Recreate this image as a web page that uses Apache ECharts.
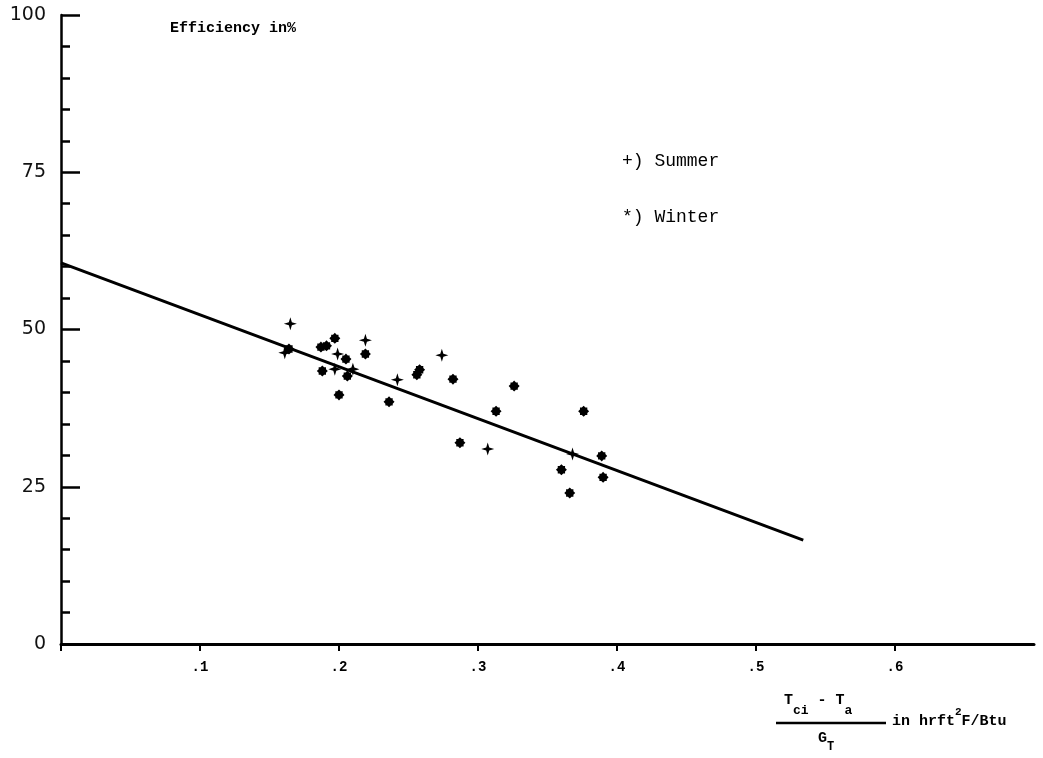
<!DOCTYPE html>
<html>
<head>
<meta charset="utf-8">
<script src="https://cdn.jsdelivr.net/npm/echarts@6/dist/echarts.min.js"></script>
<style>
  html, body { margin: 0; padding: 0; background: #fff; }
  #chart { width: 1043px; height: 758px; }
</style>
</head>
<body>
<div id="chart"></div>
<script>
// [x, efficiency %]
var summerPoints = [
  [0.165, 50.9], [0.161, 46.3], [0.219, 48.3], [0.199, 46.1], [0.197, 43.7],
  [0.210, 43.7], [0.242, 42.0], [0.274, 45.9], [0.307, 31.0], [0.368, 30.2]
];
var winterPoints = [
  [0.187, 47.2], [0.191, 47.4], [0.197, 48.6], [0.219, 46.1], [0.205, 45.3],
  [0.188, 43.4], [0.206, 42.6], [0.200, 39.6], [0.236, 38.5], [0.256, 42.8],
  [0.258, 43.6], [0.282, 42.1], [0.326, 41.0], [0.313, 37.0], [0.287, 32.0],
  [0.376, 37.0], [0.389, 29.9], [0.360, 27.7], [0.390, 26.5], [0.366, 24.0],
  [0.164, 46.9]
];
var fitLine = [[0, 60.6], [0.534, 16.5]];
var yTicks = [0, 25, 50, 75, 100];

var chart = echarts.init(document.getElementById('chart'));

// plotter style marks: thin four point cross and a fat blob
var plusPath = 'path://M0,-6 L1.4,-1.4 L6,0 L1.4,1.4 L0,6 L-1.4,1.4 L-6,0 L-1.4,-1.4 Z';
var blobPath = 'path://M0,-6 L2,-4 L4,-4 L4,-2 L6,0 L4,2 L4,4 L2,4 L0,6 L-2,4 L-4,4 L-4,2 L-6,0 L-4,-2 L-4,-4 L-2,-4 Z';

var monoBold = function (size) { return 'bold ' + size + 'px "Liberation Mono"'; };

var option = {
  backgroundColor: '#fff',
  animation: false,
  grid: { left: 61, right: 9, top: 15, bottom: 114 },
  xAxis: {
    type: 'value',
    min: 0,
    max: 0.7,
    interval: 0.1,
    axisLine: { lineStyle: { color: '#000', width: 3 } },
    axisTick: { show: true, length: 7, lineStyle: { color: '#000', width: 2 } },
    axisLabel: {
      showMaxLabel: false,
      margin: 16,
      color: '#000',
      fontFamily: 'Liberation Mono',
      fontWeight: 'bold',
      fontSize: 14,
      formatter: function (v) {
        if (v === 0) return '';
        return '.' + Math.round(v * 10);
      }
    },
    splitLine: { show: false }
  },
  yAxis: {
    type: 'value',
    min: 0,
    max: 100,
    interval: 25,
    axisLine: { show: true, lineStyle: { color: '#000', width: 2.5 } },
    axisTick: { show: true, inside: true, length: 19, lineStyle: { color: '#000', width: 2.5 } },
    minorTick: { show: true, splitNumber: 5, length: 9, lineStyle: { color: '#000', width: 2.5 } },
    axisLabel: {
      margin: 15,
      color: '#111',
      fontFamily: 'DejaVu Sans',
      fontSize: 19,
      formatter: function (v) { return yTicks.indexOf(v) >= 0 ? String(v) : ''; }
    },
    splitLine: { show: false }
  },
  graphic: [
    { type: 'text', left: 170, top: 21,
      style: { text: 'Efficiency in%', fill: '#000', font: monoBold(15) } },
    { type: 'text', left: 622, top: 152,
      style: { text: '+) Summer', fill: '#000', font: '18px "Liberation Mono"' } },
    { type: 'text', left: 622, top: 208,
      style: { text: '*) Winter', fill: '#000', font: '18px "Liberation Mono"' } },
    { type: 'text', left: 784, top: 693,
      style: {
        text: '{t|T}{s|ci}{t| - T}{s|a}',
        rich: {
          t: { font: monoBold(15), fill: '#000', verticalAlign: 'top', lineHeight: 16 },
          s: { font: monoBold(13), fill: '#000', verticalAlign: 'bottom', lineHeight: 24 }
        }
      } },
    { type: 'line', shape: { x1: 776, y1: 723, x2: 886, y2: 723 },
      style: { stroke: '#000', lineWidth: 2.5 } },
    { type: 'text', left: 818, top: 731,
      style: {
        text: '{t|G}{s|T}',
        rich: {
          t: { font: monoBold(15), fill: '#000', verticalAlign: 'top', lineHeight: 16 },
          s: { font: monoBold(12), fill: '#000', verticalAlign: 'bottom', lineHeight: 22 }
        }
      } },
    { type: 'text', left: 892, top: 707,
      style: {
        text: '{t|in hrft}{p|2}{t|F/Btu}',
        rich: {
          t: { font: monoBold(15), fill: '#000', verticalAlign: 'bottom', lineHeight: 22 },
          p: { font: monoBold(11), fill: '#000', verticalAlign: 'top', lineHeight: 14 }
        }
      } }
  ],
  series: [
    {
      name: 'Fit',
      type: 'line',
      data: fitLine,
      showSymbol: false,
      lineStyle: { color: '#000', width: 3 },
      z: 2
    },
    {
      name: 'Summer',
      type: 'scatter',
      data: summerPoints,
      symbol: plusPath,
      symbolSize: 13,
      itemStyle: { color: '#000', opacity: 1 },
      z: 3
    },
    {
      name: 'Winter',
      type: 'scatter',
      data: winterPoints,
      symbol: blobPath,
      symbolSize: 11,
      itemStyle: { color: '#000', opacity: 1 },
      z: 3
    }
  ]
};

chart.setOption(option);
</script>
</body>
</html>
